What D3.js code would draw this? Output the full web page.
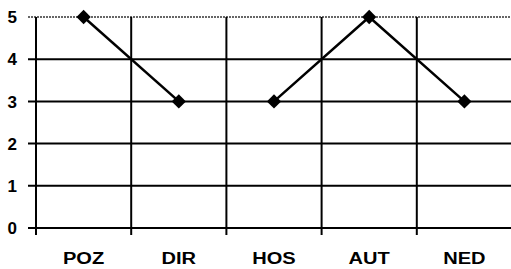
<!DOCTYPE html>
<meta charset="utf-8">
<head>
<script src="https://d3js.org/d3.v7.min.js"></script>
<style>
  body { margin: 0; background: #fff; }
  text { font-family: "Liberation Sans", Arial, sans-serif; font-weight: bold; }
</style>
</head>
<body>
<div id="chart"></div>
<script>
// data
var categories = ["POZ", "DIR", "HOS", "AUT", "NED"];
var values = [5, 3, 3, 5, 3];
// which line piece each point belongs to (the line breaks between DIR and HOS)
var segment = [1, 1, 2, 2, 2];
var yTicks = [0, 1, 2, 3, 4, 5];

var width = 511, height = 269;
var margin = {top: 17, right: 0, bottom: 41, left: 36};

var svg = d3.select("#chart").append("svg")
  .attr("width", width)
  .attr("height", height);

var g = svg.append("g")
  .attr("transform", "translate(" + margin.left + "," + margin.top + ")");

var w = width - margin.left - margin.right;
var h = height - margin.top - margin.bottom;

var x = d3.scaleBand().domain(categories).range([0, w + 1]);
var y = d3.scaleLinear().domain([0, 5]).range([h, 0]);

// horizontal gridlines
g.selectAll(".hgrid")
  .data(yTicks)
  .enter().append("line")
  .attr("x1", -8)
  .attr("x2", w)
  .attr("y1", function(d) { return y(d); })
  .attr("y2", function(d) { return y(d); })
  .attr("stroke", function(d) { return d == 5 ? "#666" : "#000"; })
  .attr("stroke-dasharray", function(d) { return d == 5 ? "2,1" : null; })
  .attr("stroke-width", 2);

// vertical lines between categories (plus the axis), with tick below
var bounds = categories.map(function(c) { return x(c); });
g.selectAll(".vgrid")
  .data(bounds)
  .enter().append("line")
  .attr("x1", function(d) { return d; })
  .attr("x2", function(d) { return d; })
  .attr("y1", 0)
  .attr("y2", h + 7)
  .attr("stroke", "#000")
  .attr("stroke-width", 2);

// y labels
g.selectAll(".ylab")
  .data(yTicks)
  .enter().append("text")
  .attr("x", -19)
  .attr("y", function(d) { return y(d); })
  .attr("dy", "0.36em")
  .attr("text-anchor", "end")
  .attr("font-size", 17)
  .text(function(d) { return d; });

// x labels (the print is a bit wider than the font)
g.selectAll(".xlab")
  .data(categories)
  .enter().append("text")
  .attr("transform", function(d) {
    return "translate(" + (x(d) + x.bandwidth() / 2) + "," + (h + 36) + ") scale(1.18,1)";
  })
  .attr("text-anchor", "middle")
  .attr("font-size", 17)
  .text(function(d) { return d; });

// line pieces
var pts = categories.map(function(c, i) {
  return {cat: c, v: values[i], seg: segment[i]};
});
var line = d3.line()
  .x(function(d) { return x(d.cat) + x.bandwidth() / 2; })
  .y(function(d) { return y(d.v); });

d3.groups(pts, function(d) { return d.seg; }).forEach(function(grp) {
  g.append("path")
    .datum(grp[1])
    .attr("d", line)
    .attr("fill", "none")
    .attr("stroke", "#000")
    .attr("stroke-width", 2.5);
});

// diamond markers
g.selectAll(".pt")
  .data(pts)
  .enter().append("path")
  .attr("transform", function(d) {
    return "translate(" + (x(d.cat) + x.bandwidth() / 2) + "," + y(d.v) + ")";
  })
  .attr("d", d3.symbol().type(d3.symbolDiamond2).size(130))
  .attr("fill", "#000");
</script>
</body>
